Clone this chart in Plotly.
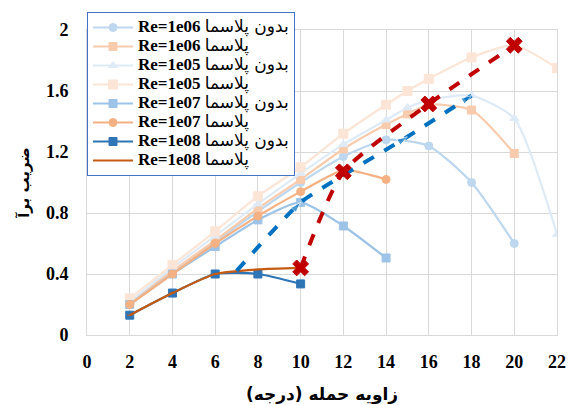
import plotly.graph_objects as go

# ---- data ----
x_re06_no = [2, 4, 6, 8, 10, 12, 14, 16, 18, 20]
y_re06_no = [0.21, 0.41, 0.61, 0.81, 1.00, 1.17, 1.28, 1.24, 1.00, 0.60]

x_re06_pl = [2, 4, 6, 8, 10, 12, 14, 15, 16, 18, 20]
y_re06_pl = [0.22, 0.42, 0.62, 0.83, 1.02, 1.22, 1.38, 1.45, 1.51, 1.475, 1.19]

x_re05_no = [2, 4, 6, 8, 10, 12, 14, 15, 16, 18, 20, 22]
y_re05_no = [0.22, 0.44, 0.65, 0.86, 1.06, 1.25, 1.41, 1.49, 1.54, 1.57, 1.42, 0.66]

x_re05_pl = [2, 4, 6, 8, 10, 12, 14, 15, 16, 18, 20, 22]
y_re05_pl = [0.24, 0.46, 0.68, 0.91, 1.10, 1.32, 1.51, 1.60, 1.68, 1.82, 1.90, 1.75]

x_re07_no = [2, 4, 6, 8, 10, 12, 14]
y_re07_no = [0.20, 0.40, 0.58, 0.755, 0.87, 0.715, 0.505]

x_re07_pl = [2, 4, 6, 8, 10, 12, 14]
y_re07_pl = [0.20, 0.40, 0.60, 0.78, 0.94, 1.08, 1.02]

x_re08_no = [2, 4, 6, 8, 10]
y_re08_no = [0.13, 0.275, 0.40, 0.40, 0.335]

x_re08_pl = [2, 4, 6, 8, 10]
y_re08_pl = [0.13, 0.275, 0.40, 0.43, 0.44]

x_stall_no = [7, 10, 15, 18]
y_stall_no = [0.42, 0.87, 1.30, 1.57]

x_stall_pl = [10, 12, 16, 20]
y_stall_pl = [0.44, 1.07, 1.515, 1.90]

re_labels = ["Re=1e06", "Re=1e06", "Re=1e05", "Re=1e05",
             "Re=1e07", "Re=1e07", "Re=1e08", "Re=1e08"]
fa_labels = ["بدون پلاسما", "پلاسما", "بدون پلاسما", "پلاسما",
             "بدون پلاسما", "پلاسما", "بدون پلاسما", "پلاسما"]

x_ticks = [0, 2, 4, 6, 8, 10, 12, 14, 16, 18, 20, 22]
y_ticks = [0, 0.4, 0.8, 1.2, 1.6, 2]

x_title = "زاویه حمله (درجه)"
y_title = "ضریب برآ"

series = [
    (x_re06_no, y_re06_no, "#BDD7EE", "circle", 8),
    (x_re06_pl, y_re06_pl, "#F8CBAD", "square", 8),
    (x_re05_no, y_re05_no, "#DEEBF7", "triangle-up", 8),
    (x_re05_pl, y_re05_pl, "#FBE5D6", "square", 9),
    (x_re07_no, y_re07_no, "#9DC3E6", "square", 8),
    (x_re07_pl, y_re07_pl, "#F4B183", "circle", 8),
    (x_re08_no, y_re08_no, "#2E75B6", "square", 8),
    (x_re08_pl, y_re08_pl, "#C55A11", "line-ew", 4),
]

fig = go.Figure()
for (xs, ys, col, sym, sz), re, fa in zip(series, re_labels, fa_labels):
    nm = (f"<span style='font-size:17px'><b>{re}</b> "
          f"<span style='font-family:DejaVu Sans;font-size:17px;letter-spacing:0.6px'>{fa}</span></span>")
    fig.add_trace(go.Scatter(
        x=xs, y=ys, name=nm, mode="lines+markers",
        line=dict(color=col, width=2.2, shape="spline", smoothing=0.6),
        marker=dict(color=col, symbol=sym, size=sz,
                    line=dict(color=col, width=1)),
    ))

fig.add_trace(go.Scatter(
    x=x_stall_no, y=y_stall_no, mode="lines+markers", showlegend=False,
    line=dict(color="#0070C0", width=4, dash="dash", shape="spline", smoothing=0.4),
    marker=dict(color="#0070C0", symbol=["square", "arrow", "arrow", "arrow"],
                size=[9, 11, 11, 11], angleref="previous"),
))
fig.add_trace(go.Scatter(
    x=x_stall_pl, y=y_stall_pl, mode="lines+markers", showlegend=False,
    line=dict(color="#C00000", width=4, dash="dash", shape="spline", smoothing=0.6),
    marker=dict(color="#C00000", symbol="x", size=14,
                line=dict(color="#C00000", width=1)),
))

tick_font = dict(family="Liberation Serif", size=18, color="#000000")

fig.update_layout(
    width=568, height=405,
    margin=dict(l=87, r=11, t=30, b=70),
    paper_bgcolor="white", plot_bgcolor="white",
    showlegend=True,
    legend=dict(
        x=0, y=1.059, xanchor="left", yanchor="top",
        bgcolor="white", bordercolor="#4472C4", borderwidth=1,
        font=dict(family="Liberation Serif, DejaVu Sans", size=11, color="#000000"),
        tracegroupgap=0, itemwidth=40,
    ),
    xaxis=dict(
        range=[0, 22], tickvals=x_ticks, ticktext=[f"<b>{v}</b>" for v in x_ticks],
        showgrid=True, gridcolor="#D9D9D9", gridwidth=1,
        showline=True, linecolor="#D9D9D9", linewidth=1, mirror=True,
        zeroline=False, ticks="", tickfont=tick_font, ticklabelstandoff=10,
        automargin=False,
        title=dict(text=f"<b>{x_title}</b>", font=dict(family="DejaVu Sans", size=17, color="#000"),
                   standoff=20),
    ),
    yaxis=dict(
        range=[0, 2], tickvals=y_ticks, ticktext=[f"<b>{v}</b>" for v in y_ticks],
        showgrid=True, gridcolor="#D9D9D9", gridwidth=1,
        showline=True, linecolor="#D9D9D9", linewidth=1, mirror=True,
        zeroline=False, ticks="", tickfont=tick_font, ticklabelstandoff=14,
        automargin=False,
        title=dict(text=f"<b>{y_title}</b>", font=dict(family="DejaVu Sans", size=15, color="#000"),
                   standoff=12),
    ),
)

fig.write_html("out.html", config={"displayModeBar": False},
               post_script="document.body.style.margin='0px';")
